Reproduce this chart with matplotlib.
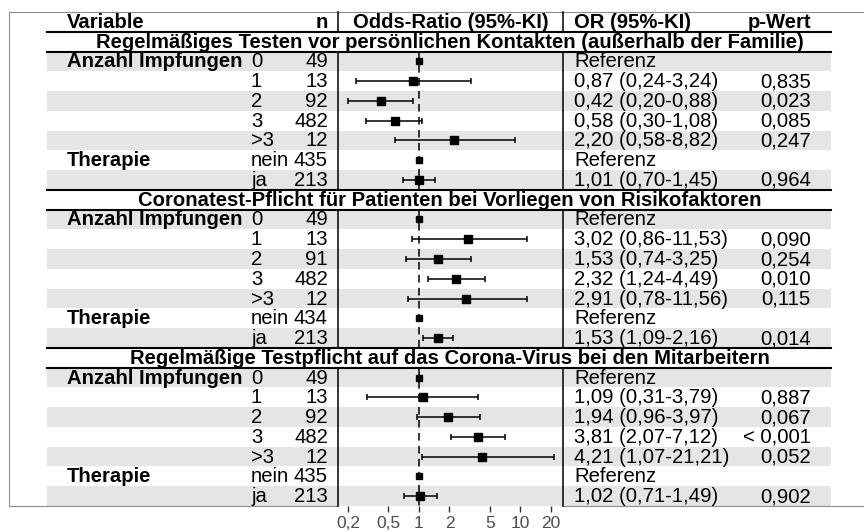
import matplotlib.pyplot as plt

plt.rcParams['font.family'] = ['Liberation Sans', 'DejaVu Sans']

# table content
sections = [
    "Regelmäßiges Testen vor persönlichen Kontakten (außerhalb der Familie)",
    "Coronatest-Pflicht für Patienten bei Vorliegen von Risikofaktoren",
    "Regelmäßige Testpflicht auf das Corona-Virus bei den Mitarbeitern",
]
variables = ["Anzahl Impfungen", "", "", "", "", "Therapie", ""]
levels = ["0", "1", "2", "3", ">3", "nein", "ja"]
n_counts = [
    [49, 13, 92, 482, 12, 435, 213],
    [49, 13, 91, 482, 12, 434, 213],
    [49, 13, 92, 482, 12, 435, 213],
]
# None = Referenz
odds = [
    [None, 0.87, 0.42, 0.58, 2.20, None, 1.01],
    [None, 3.02, 1.53, 2.32, 2.91, None, 1.53],
    [None, 1.09, 1.94, 3.81, 4.21, None, 1.02],
]
ci_low = [
    [None, 0.24, 0.20, 0.30, 0.58, None, 0.70],
    [None, 0.86, 0.74, 1.24, 0.78, None, 1.09],
    [None, 0.31, 0.96, 2.07, 1.07, None, 0.71],
]
ci_high = [
    [None, 3.24, 0.88, 1.08, 8.82, None, 1.45],
    [None, 11.53, 3.25, 4.49, 11.56, None, 2.16],
    [None, 3.79, 3.97, 7.12, 21.21, None, 1.49],
]
p_text = [
    ["", "0,835", "0,023", "0,085", "0,247", "", "0,964"],
    ["", "0,090", "0,254", "0,010", "0,115", "", "0,014"],
    ["", "0,887", "0,067", "< 0,001", "0,052", "", "0,902"],
]
x_ticks = [0.2, 0.5, 1, 2, 5, 10, 20]
x_ticklabels = ["0,2", "0,5", "1", "2", "5", "10", "20"]


def fmt(v):
    return f"{v:.2f}".replace(".", ",")


W, H = 864, 532
top, bottom = 12, 506
n_rows = 1 + len(sections) * (1 + len(levels))
row_h = (bottom - top) / n_rows
x_left, x_right = 47, 831
x_var, x_lvl, x_n, x_or, x_p = 67, 251, 328, 574, 811
f_left, f_right = 338, 563
fs = 14.6

fig = plt.figure(figsize=(W / 100, H / 100), dpi=100)
ax = fig.add_axes([0, 0, 1, 1])
ax.set_xlim(0, W)
ax.set_ylim(H, 0)
ax.axis('off')

fx = fig.add_axes([f_left / W, 1 - bottom / H, (f_right - f_left) / W, (bottom - top) / H])
fx.set_xscale('log')
fx.set_xlim(0.1594, 26.26)
fx.set_ylim(n_rows, 0)
fx.patch.set_visible(False)
for sp in fx.spines.values():
    sp.set_visible(False)
fx.set_yticks([])
fx.set_xticks(x_ticks)
fx.set_xticklabels(x_ticklabels)
fx.minorticks_off()
fx.tick_params(axis='x', length=4, width=1, color='#333333', labelcolor='#4d4d4d',
               labelsize=12.5, pad=3)


def y_of(k):
    return top + k * row_h


def base(k):
    return y_of(k) + row_h / 2 + 6


# outer frame
fc = '#8c8c8c'
ax.plot([9, 9], [top, bottom], color=fc, lw=0.8)
ax.plot([9, W], [top, top], color=fc, lw=0.8)
ax.plot([9, f_left], [bottom, bottom], color=fc, lw=0.8)
ax.plot([f_right, W], [bottom, bottom], color=fc, lw=0.8)

# header
ax.text(x_var, base(0), "Variable", fontsize=fs, fontweight='bold', va='baseline')
ax.text(x_n, base(0), "n", fontsize=fs, fontweight='bold', va='baseline', ha='right')
ax.text((f_left + f_right) / 2, base(0), "Odds-Ratio (95%-KI)", fontsize=fs,
        fontweight='bold', va='baseline', ha='center')
ax.text(x_or, base(0), "OR (95%-KI)", fontsize=fs, fontweight='bold', va='baseline')
ax.text(x_p, base(0), "p-Wert", fontsize=fs, fontweight='bold', va='baseline', ha='right')
for xv in (f_left, f_right):
    ax.plot([xv, xv], [y_of(0), y_of(1)], color='black', lw=1.1)

for s, title in enumerate(sections):
    t = 1 + s * (1 + len(levels))
    ax.text(450, base(t), title, fontsize=fs, fontweight='bold', va='baseline', ha='center')
    for k in (t, t + 1):
        ax.plot([x_left, x_right], [y_of(k), y_of(k)], color='black', lw=1.5, zorder=3)
    first, last = t + 1, t + 1 + len(levels)
    for xv in (f_left, f_right):
        ax.plot([xv, xv], [y_of(first), y_of(last)], color='black', lw=1.1, zorder=3)
    fx.plot([1, 1], [first, last], color='black', lw=1.1, ls=(0, (5, 3.5)), zorder=1)

    for i, lvl in enumerate(levels):
        k = first + i
        if i % 2 == 0:
            ax.fill_between([x_left, x_right], y_of(k), y_of(k + 1), color='#e5e5e5',
                            lw=0, zorder=0)
        if variables[i]:
            ax.text(x_var, base(k), variables[i], fontsize=fs, fontweight='bold', va='baseline')
        ax.text(x_lvl, base(k), lvl, fontsize=fs, va='baseline')
        ax.text(x_n, base(k), str(n_counts[s][i]), fontsize=fs, va='baseline', ha='right')
        yc = k + 0.5
        o = odds[s][i]
        if o is None:
            ax.text(x_or, base(k), "Referenz", fontsize=fs, va='baseline')
            fx.plot([1], [yc], marker='s', ms=5, color='black', zorder=3)
        else:
            lo, hi = ci_low[s][i], ci_high[s][i]
            ax.text(x_or, base(k), f"{fmt(o)} ({fmt(lo)}-{fmt(hi)})", fontsize=fs,
                    va='baseline')
            ax.text(x_p, base(k), p_text[s][i], fontsize=fs, va='baseline', ha='right')
            fx.errorbar([o], [yc], xerr=[[o - lo], [hi - o]], fmt='s', ms=6, color='black',
                        ecolor='black', elinewidth=1.1, capsize=2.5, capthick=1.1, zorder=3)

plt.savefig("out.png", dpi=100)
